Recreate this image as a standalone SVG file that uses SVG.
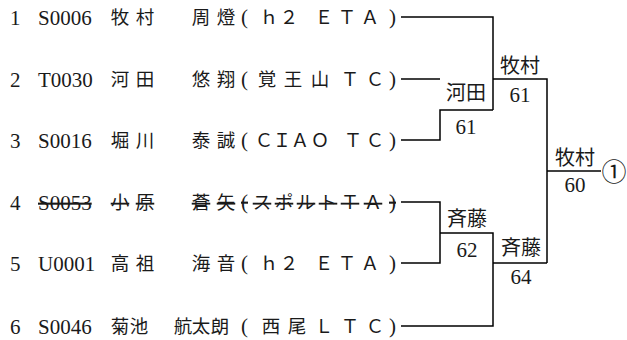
<svg xmlns="http://www.w3.org/2000/svg" width="627" height="340" viewBox="0 0 627 340">
<style>
text{fill:#1a1a1a}
.lat{font-family:"Liberation Serif","Noto Sans CJK JP",serif;font-size:21px}
.jp{font-family:"Liberation Serif","Noto Sans CJK JP",serif;font-size:18.5px;text-anchor:middle}
.lbl{font-family:"Noto Sans CJK JP",sans-serif;font-size:20px;text-anchor:middle}
.sc{font-family:"Liberation Serif",serif;font-size:21px;text-anchor:middle}
.strike{text-decoration:line-through}
.ln{fill:none;stroke:#000;stroke-width:1.5}
</style>
<g id="player1">
<text class="lat" x="10" y="25">1</text>
<text class="lat" x="38" y="25">S0006</text>
<text class="jp" y="24"><tspan x="120 145">牧村</tspan><tspan x="201 226">周燈</tspan></text>
<text class="lat" y="24"><tspan x="241">(</tspan></text>
<text class="jp" y="24"><tspan x="269 289 307 324 347 370">ｈ２　ＥＴＡ</tspan></text>
<text class="lat" y="24"><tspan x="389">)</tspan></text>
</g>
<g id="player2">
<text class="lat" x="10" y="87">2</text>
<text class="lat" x="38" y="87">T0030</text>
<text class="jp" y="86"><tspan x="120 145">河田</tspan><tspan x="201 226">悠翔</tspan></text>
<text class="lat" y="86"><tspan x="241">(</tspan></text>
<text class="jp" y="86"><tspan x="267 293 320 350 375">覚王山ＴＣ</tspan></text>
<text class="lat" y="86"><tspan x="389">)</tspan></text>
</g>
<g id="player3">
<text class="lat" x="10" y="148">3</text>
<text class="lat" x="38" y="148">S0016</text>
<text class="jp" y="147"><tspan x="120 145">堀川</tspan><tspan x="201 226">泰誠</tspan></text>
<text class="lat" y="147"><tspan x="241">(</tspan></text>
<text class="jp" y="147"><tspan x="264 282 300 320 337 353 375">ＣＩＡＯ　ＴＣ</tspan></text>
<text class="lat" y="147"><tspan x="389">)</tspan></text>
</g>
<g id="player4">
<text class="lat" x="10" y="210">4</text>
<text class="lat strike" x="38" y="210">S0053</text>
<text class="jp strike" y="209"><tspan x="120 145">小原</tspan><tspan x="201 226">蒼矢</tspan></text>
<text class="lat strike" y="209"><tspan x="241">(</tspan></text>
<text class="jp strike" y="209"><tspan x="262 284 306 328 350 373">スポルトＴＡ</tspan></text>
<text class="lat strike" y="209"><tspan x="389">)</tspan></text>
</g>
<g id="player5">
<text class="lat" x="10" y="271">5</text>
<text class="lat" x="38" y="271">U0001</text>
<text class="jp" y="270"><tspan x="120 145">高祖</tspan><tspan x="201 226">海音</tspan></text>
<text class="lat" y="270"><tspan x="241">(</tspan></text>
<text class="jp" y="270"><tspan x="269 289 307 324 347 370">ｈ２　ＥＴＡ</tspan></text>
<text class="lat" y="270"><tspan x="389">)</tspan></text>
</g>
<g id="player6">
<text class="lat" x="10" y="334">6</text>
<text class="lat" x="38" y="334">S0046</text>
<text class="jp" y="333"><tspan x="120 139">菊池</tspan><tspan x="183 201 220">航太朗</tspan></text>
<text class="lat" y="333"><tspan x="241">(</tspan></text>
<text class="jp" y="333"><tspan x="271 297 324 350 375">西尾ＬＴＣ</tspan></text>
<text class="lat" y="333"><tspan x="389">)</tspan></text>
</g>
<g id="connectors">
<path class="ln" d="M401 17H493V110"/>
<path class="ln" d="M401 79H440"/>
<path class="ln" d="M401 140H440V110H493"/>
<path class="ln" d="M493 79H547V263"/>
<path class="ln" d="M547 171H601"/>
<path class="ln" d="M401 202H440V263H401"/>
<path class="ln" d="M440 233H493V326H401"/>
<path class="ln" d="M493 263H547"/>
</g>
<g id="match-r1-a">
<text class="lbl" x="466" y="100">河田</text>
<text class="sc" x="466" y="134">61</text>
</g>
<g id="match-r2-a">
<text class="lbl" x="520" y="73">牧村</text>
<text class="sc" x="520" y="102">61</text>
</g>
<g id="match-r1-b">
<text class="lbl" x="467" y="226">斉藤</text>
<text class="sc" x="467" y="257">62</text>
</g>
<g id="match-r2-b">
<text class="lbl" x="521" y="255">斉藤</text>
<text class="sc" x="521" y="284">64</text>
</g>
<g id="final">
<text class="lbl" x="575" y="165">牧村</text>
<text class="sc" x="575" y="192">60</text>
<text class="lbl" x="614" y="181" style="font-size:25px">①</text>
</g>
</svg>
